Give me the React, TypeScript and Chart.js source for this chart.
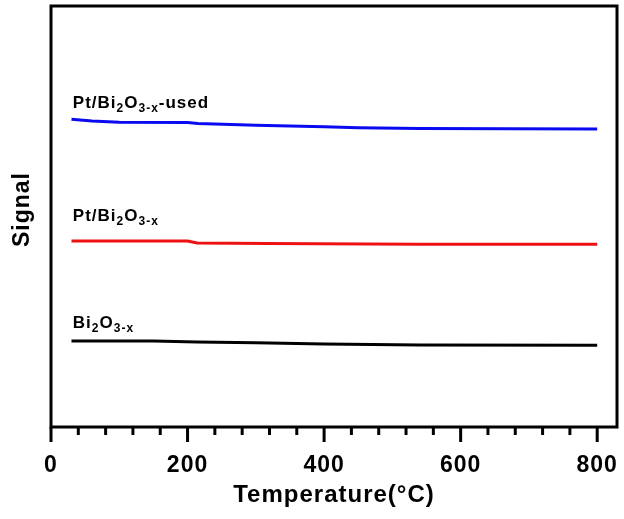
import React, { useEffect, useRef } from "react";
import { Chart, registerables } from "chart.js";

Chart.register(...registerables);

const FONT = "'Liberation Sans', Arial, Helvetica, sans-serif";

// Temperatures (°C) and signal (arbitrary units) for each sample
const usedT = [30, 60, 100, 200, 215, 300, 400, 450, 540, 800];
const usedV = [73.1, 72.7, 72.4, 72.3, 72.1, 71.7, 71.3, 71.1, 70.9, 70.8];

const ptT = [30, 200, 214, 316, 540, 800];
const ptV = [44.2, 44.2, 43.7, 43.6, 43.4, 43.4];

const bareT = [30, 150, 214, 300, 400, 540, 800];
const bareV = [20.4, 20.4, 20.2, 20.0, 19.7, 19.5, 19.4];

const seriesColors = ["#0a0af0", "#ee1111", "#000000"];

// Label anchors (temperature, signal) and text parts: [text, isSubscript]
const labelT = [32, 32, 32];
const labelV = [75.8, 48.9, 23.5];
const labelParts: [string, boolean][][] = [
  [["Pt/Bi", false], ["2", true], ["O", false], ["3-x", true], ["-used", false]],
  [["Pt/Bi", false], ["2", true], ["O", false], ["3-x", true]],
  [["Bi", false], ["2", true], ["O", false], ["3-x", true]],
];

const xMin = 0;
const xMax = 829;
const yMin = 0;
const yMax = 100;
const majorStep = 200;
const minorStep = 40;
const yTitle = "Signal";
const xTitle = "Temperature(°C)";

const toPts = (t: number[], v: number[]) => t.map((x, i) => ({ x, y: v[i] }));

const setSpacing = (chart: any) => {
  try {
    chart.ctx.letterSpacing = "1px";
  } catch (e) {}
};

const framePlugin = {
  id: "frameTicks",
  beforeUpdate: setSpacing,
  beforeLayout: setSpacing,
  beforeDraw: setSpacing,
  afterDraw(chart: any) {
    const { ctx, chartArea } = chart;
    const xs = chart.scales.x;
    const ys = chart.scales.y;
    ctx.save();
    ctx.strokeStyle = "#000";
    ctx.lineWidth = 3;
    ctx.lineCap = "butt";
    ctx.strokeRect(chartArea.left, chartArea.top, chartArea.right - chartArea.left, chartArea.bottom - chartArea.top);
    for (let v = xMin; v <= 800; v += minorStep) {
      const px = xs.getPixelForValue(v);
      const len = v % majorStep === 0 ? 15 : 8;
      ctx.beginPath();
      ctx.moveTo(px, chartArea.bottom);
      ctx.lineTo(px, chartArea.bottom + len);
      ctx.stroke();
    }
    // y axis title
    ctx.fillStyle = "#000";
    ctx.save();
    ctx.translate(23, (chartArea.top + chartArea.bottom) / 2 - 7);
    ctx.rotate(-Math.PI / 2);
    ctx.textAlign = "center";
    ctx.textBaseline = "middle";
    ctx.font = `bold 23px ${FONT}`;
    ctx.fillText(yTitle, 0, 0);
    ctx.restore();
    // series labels with subscripts
    ctx.textBaseline = "alphabetic";
    ctx.textAlign = "left";
    labelParts.forEach((parts, i) => {
      let x = xs.getPixelForValue(labelT[i]);
      const y = ys.getPixelForValue(labelV[i]);
      parts.forEach(([txt, sub]) => {
        ctx.font = sub ? `bold 12px ${FONT}` : `bold 17px ${FONT}`;
        ctx.fillText(txt, x, sub ? y + 4 : y);
        x += ctx.measureText(txt).width;
      });
    });
    ctx.restore();
  },
};

export default function App() {
  const ref = useRef<HTMLCanvasElement>(null);
  useEffect(() => {
    if (!ref.current) return;
    const chart = new Chart(ref.current, {
      type: "line",
      data: {
        datasets: [
          { data: toPts(usedT, usedV), borderColor: seriesColors[0] },
          { data: toPts(ptT, ptV), borderColor: seriesColors[1] },
          { data: toPts(bareT, bareV), borderColor: seriesColors[2] },
        ].map((d) => ({ ...d, borderWidth: 3, pointRadius: 0, tension: 0, fill: false })),
      },
      options: {
        responsive: false,
        animation: false,
        layout: { padding: { top: 6, right: 7, left: 0, bottom: 0 } },
        plugins: { legend: { display: false }, tooltip: { enabled: false } },
        scales: {
          x: {
            type: "linear",
            min: xMin,
            max: xMax,
            grid: { display: false, drawTicks: false },
            border: { display: false },
            ticks: {
              stepSize: minorStep,
              includeBounds: false,
              autoSkip: false,
              maxRotation: 0,
              padding: 25,
              color: "#000",
              font: { family: FONT, weight: "bold", size: 23 },
              callback: (v: any) => (Number(v) % majorStep === 0 ? String(v) : ""),
            },
            title: {
              display: true,
              text: xTitle,
              color: "#000",
              font: { family: FONT, weight: "bold", size: 24 },
              padding: { top: 0, bottom: 9 },
            },
            afterFit: (s: any) => {
              s.height = 92;
              s.paddingLeft = 0;
              s.paddingRight = 0;
            },
          },
          y: {
            type: "linear",
            min: yMin,
            max: yMax,
            grid: { display: false, drawTicks: false },
            border: { display: false },
            ticks: { display: false },
            title: { display: false },
            afterFit: (s: any) => {
              s.width = 51;
              s.paddingTop = 0;
              s.paddingBottom = 0;
            },
          },
        },
      },
      plugins: [framePlugin],
    });
    return () => chart.destroy();
  }, []);
  return (
    <div style={{ position: "absolute", left: 0, top: 0, width: 624, height: 519, background: "#fff" }}>
      <canvas ref={ref} width={624} height={519} style={{ display: "block" }} />
    </div>
  );
}
